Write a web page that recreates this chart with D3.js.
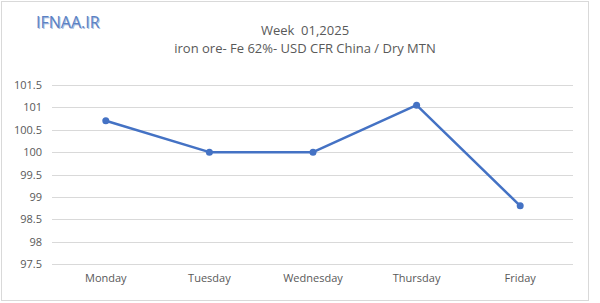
<!DOCTYPE html>
<html><head><meta charset="utf-8">
<script src="https://cdn.jsdelivr.net/npm/d3@7"></script>
<style>body{margin:0;background:#fff}svg{display:block}text{font-family:"Open Sans",sans-serif}</style>
</head><body><svg id="c" width="600" height="303"></svg>
<script>
const categories = ["Monday","Tuesday","Wednesday","Thursday","Friday"];
const values = [100.7, 100.0, 100.0, 101.05, 98.8];
const yTicks = [97.5, 98, 98.5, 99, 99.5, 100, 100.5, 101, 101.5];
const titleText = "Week  01,2025";
const subtitleText = "iron ore- Fe 62%- USD CFR China / Dry MTN";
const logoText = "IFNAA.IR";

const svg = d3.select("#c");
svg.append("rect").attr("x",1.5).attr("y",1.5).attr("width",587).attr("height",299)
  .attr("fill","#fff").attr("stroke","#d9d9d9");

const x = d3.scaleBand().domain(categories).range([54, 572]);
const y = d3.scaleLinear().domain([97.5, 101.5]).range([264, 85]);

const g = svg.append("g");
g.selectAll("line.grid").data(yTicks).join("line").attr("class","grid")
  .attr("x1",52).attr("x2",573).attr("y1",d=>Math.round(y(d))+0.5).attr("y2",d=>Math.round(y(d))+0.5)
  .attr("stroke","#d9d9d9").attr("stroke-width",1);

const yAxis = d3.axisLeft(y).tickValues(yTicks).tickSize(0).tickPadding(0).tickFormat(d=>String(d));
const ya = svg.append("g").attr("transform","translate(42,0)").call(yAxis);
ya.select(".domain").remove();
ya.selectAll("text").attr("fill","#595959").style("font-size","11px").style("font-family","Open Sans");

const xAxis = d3.axisBottom(x).tickSize(0).tickPadding(0);
const xa = svg.append("g").attr("transform","translate(0,274)").call(xAxis);
xa.select(".domain").remove();
xa.selectAll("text").attr("fill","#595959").style("font-size","11px").style("font-family","Open Sans");

const line = d3.line().x((d,i)=>x(categories[i])+x.bandwidth()/2).y(d=>y(d));
svg.append("path").datum(values).attr("d",line).attr("fill","none")
  .attr("stroke","#4472c4").attr("stroke-width",2.5).attr("stroke-linejoin","round");
svg.selectAll("circle.pt").data(values).join("circle").attr("class","pt")
  .attr("cx",(d,i)=>x(categories[i])+x.bandwidth()/2).attr("cy",d=>y(d)).attr("r",3.5)
  .attr("fill","#4472c4");

svg.append("text").attr("x",305).attr("y",35).attr("text-anchor","middle")
  .attr("fill","#595959").style("font-size","13px").style("white-space","pre").text(titleText);
svg.append("text").attr("x",305).attr("y",53).attr("text-anchor","middle")
  .attr("fill","#595959").style("font-size","13px").text(subtitleText);

svg.append("text").attr("x",37).attr("y",29).attr("fill","#a9bde0").style("font-size","16px")
  .style("font-family","Open Sans").text(logoText);
svg.append("text").attr("x",36).attr("y",28).attr("fill","#5b82c4").style("font-size","16px")
  .style("font-family","Open Sans").text(logoText);
</script></body></html>
